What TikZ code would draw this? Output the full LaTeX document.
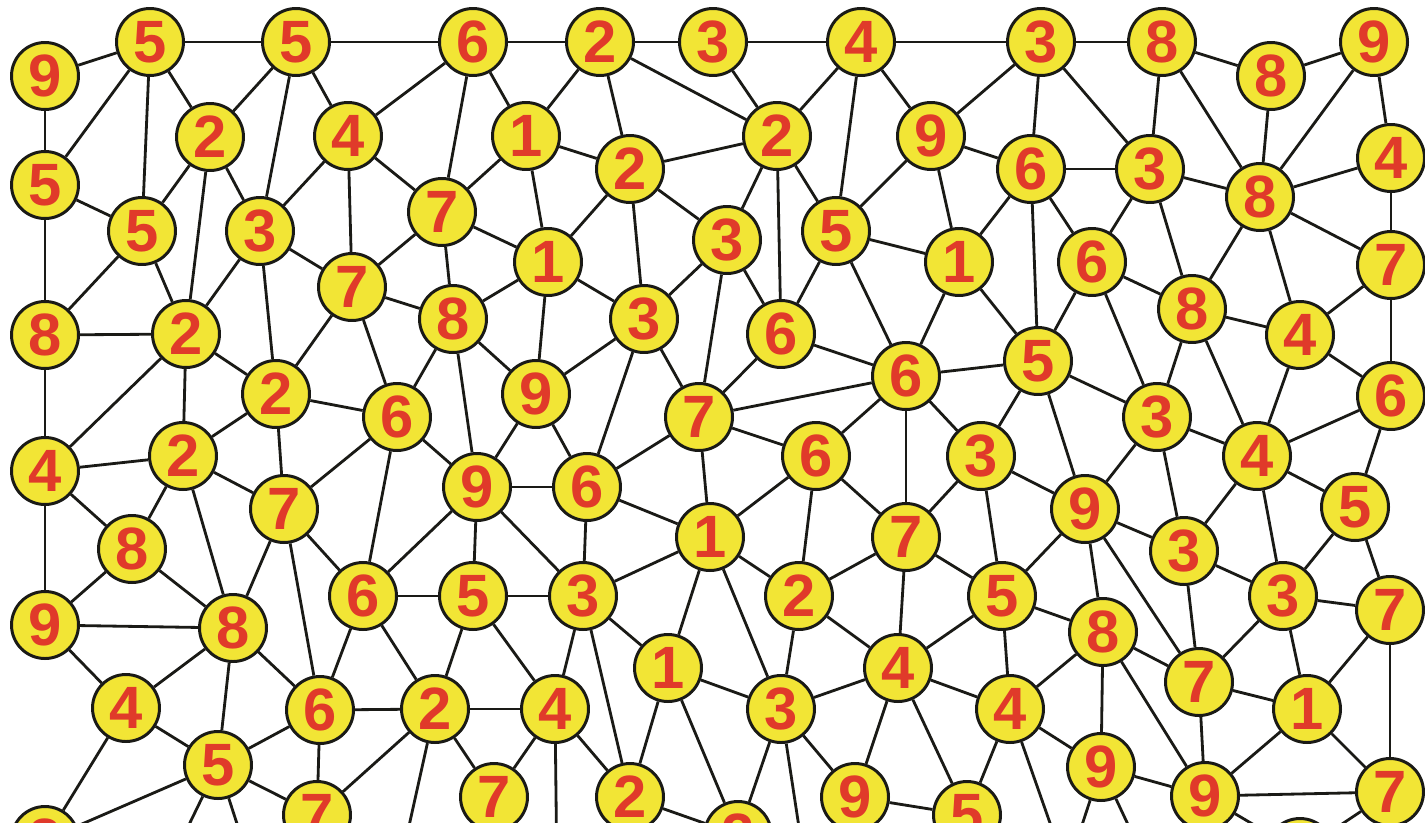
\documentclass[tikz,border=0pt]{standalone}
\usepackage{fontspec}
\setmainfont{Liberation Sans}
\usetikzlibrary{backgrounds}
\definecolor{vertexyellow}{HTML}{F2E535}
\definecolor{digitred}{HTML}{E03A2A}
\definecolor{linkblack}{HTML}{1A1A16}
\tikzset{
  vtx/.style={circle,draw=linkblack,line width=1.7pt,fill=vertexyellow,
    minimum size=1.34cm,inner sep=0pt,text=digitred,
    font=\fontsize{34}{34}\selectfont\bfseries},
  link/.style={draw=linkblack,line width=1.6pt}
}

\begin{document}
\begin{tikzpicture}[x=0.02cm,y=-0.02cm]
  \useasboundingbox (0,0) rectangle (1425,822);
  % vertices: number/x/y/label
  \foreach \n/\x/\y/\d in {
    1/45/76/9, 2/150/42/5, 3/296/42/5, 4/473/42/6, 5/600/42/2, 6/713/42/3,
    7/861/42/4, 8/1041/42/3, 9/1162/42/8, 10/1271/76/8, 11/1374/42/9,
    12/45/185/5, 13/210/137/2, 14/348/136/4, 15/526/136/1, 16/630/169/2,
    17/777/136/2, 18/931/136/9, 19/1031/169/6, 20/1150/169/3, 21/1260/197/8,
    22/1391/158/4, 23/142/231/5, 24/260/231/3, 25/442/212/7, 26/548/262/1,
    27/727/240/3, 28/836/231/5, 29/959/262/1, 30/1092/262/6, 31/1391/265/7,
    32/352/287/7, 33/45/335/8, 34/186/334/2, 35/453/319/8, 36/644/319/3,
    37/781/334/6, 38/1192/309/8, 39/1300/335/4, 40/1038/361/5, 41/906/376/6,
    42/276/394/2, 43/397/417/6, 44/536/394/9, 45/699/417/7, 46/1157/417/3,
    47/1391/396/6, 48/45/471/4, 49/183/456/2, 50/816/456/6, 51/981/456/3,
    52/1257/456/4, 53/477/487/9, 54/587/487/6, 55/284/509/7, 56/1085/509/9,
    57/1355/507/5, 58/710/537/1, 59/906/537/7, 60/132/549/8, 61/1184/551/3,
    62/45/625/9, 63/233/628/8, 64/363/596/6, 65/473/596/5, 66/583/596/3,
    67/799/596/2, 68/1002/596/5, 69/1283/596/3, 70/1390/610/7, 71/1103/632/8,
    72/668/668/1, 73/898/668/4, 74/1199/682/7, 75/126/708/4, 76/320/710/6,
    77/435/709/2, 78/555/709/4, 79/781/709/3, 80/1010/709/4, 81/1307/709/1,
    82/218/765/5, 83/1101/767/9, 84/1205/796/9, 85/1390/792/7, 86/45/840/2,
    87/317/815/7, 88/494/797/7, 89/630/797/2, 90/738/835/2, 91/855/797/9,
    92/967/815/5, 93/1300/852/8}
    \node[vtx] (v\n) at (\x,\y) {\d};
  % loose ends below the frame
  \coordinate (c1) at (167,870);
  \coordinate (c2) at (252,870);
  \coordinate (c3) at (397,880);
  \coordinate (c4) at (557,880);
  \coordinate (c5) at (807,880);
  \coordinate (c6) at (1070,880);
  \coordinate (c7) at (1064,880);
  \coordinate (c8) at (1154,880);
  \begin{scope}[on background layer]
    \foreach \a/\b in {
      1/2, 1/12, 2/3, 2/12, 2/13, 2/23, 3/4, 3/13, 3/14, 3/24,
      4/5, 4/14, 4/15, 4/25, 5/6, 5/15, 5/16, 5/17, 6/7, 6/17,
      7/8, 7/17, 7/18, 7/28, 8/9, 8/18, 8/19, 8/20, 9/10, 9/20, 9/21,
      10/11, 10/21, 11/21, 11/22, 12/23, 12/33, 13/23, 13/24, 13/34,
      14/24, 14/25, 14/32, 15/16, 15/25, 15/26, 16/17, 16/26, 16/27, 16/36,
      17/27, 17/28, 17/37, 18/19, 18/28, 18/29, 19/20, 19/29, 19/30, 19/40,
      20/21, 20/30, 20/38, 21/22, 21/31, 21/38, 21/39, 22/31, 23/33, 23/34,
      24/32, 24/34, 24/42, 25/26, 25/32, 25/35, 26/35, 26/36, 26/44,
      27/36, 27/37, 27/45, 28/29, 28/37, 28/41, 29/40, 29/41,
      30/38, 30/40, 30/46, 31/39, 31/47, 32/35, 32/42, 32/43, 33/34, 33/48,
      34/42, 34/48, 34/49, 35/43, 35/44, 35/53, 36/44, 36/45, 36/54,
      37/41, 37/45, 38/39, 38/46, 38/52, 39/47, 39/52,
      40/41, 40/46, 40/51, 40/56, 41/45, 41/50, 41/51, 41/59,
      42/43, 42/49, 42/55, 43/53, 43/55, 43/64, 44/53, 44/54,
      45/50, 45/54, 45/58, 46/52, 46/56, 46/61, 47/52, 47/57,
      48/49, 48/60, 48/62, 49/55, 49/60, 49/63, 50/58, 50/59, 50/67,
      51/56, 51/59, 51/68, 52/57, 52/61, 52/69, 53/54, 53/64, 53/65, 53/66,
      54/58, 54/66, 55/63, 55/64, 55/76, 56/61, 56/68, 56/71, 56/74,
      57/69, 57/70, 58/66, 58/67, 58/72, 58/79, 59/67, 59/68, 59/73,
      60/62, 60/63, 61/69, 61/74, 62/63, 62/75, 63/75, 63/76, 63/82,
      64/65, 64/76, 64/77, 65/66, 65/77, 65/78, 66/72, 66/78, 66/89,
      67/73, 67/79, 68/71, 68/73, 68/80, 69/70, 69/74, 69/81, 70/81, 70/85,
      71/74, 71/80, 71/83, 71/84, 72/79, 72/89, 72/90,
      73/79, 73/80, 73/91, 73/92, 74/81, 74/84, 75/82, 75/86,
      76/77, 76/82, 76/87, 77/78, 77/87, 77/88, 78/88, 78/89,
      79/90, 79/91, 80/83, 80/92, 81/84, 81/85, 82/86, 82/87,
      83/84, 84/85, 84/93, 85/93, 89/90, 91/92}
      \draw[link] (v\a) -- (v\b);
    \draw[link] (v82) -- (c1);
    \draw[link] (v82) -- (c2);
    \draw[link] (v77) -- (c3);
    \draw[link] (v78) -- (c4);
    \draw[link] (v79) -- (c5);
    \draw[link] (v80) -- (c6);
    \draw[link] (v83) -- (c7);
    \draw[link] (v83) -- (c8);
  \end{scope}
\end{tikzpicture}
\end{document}
